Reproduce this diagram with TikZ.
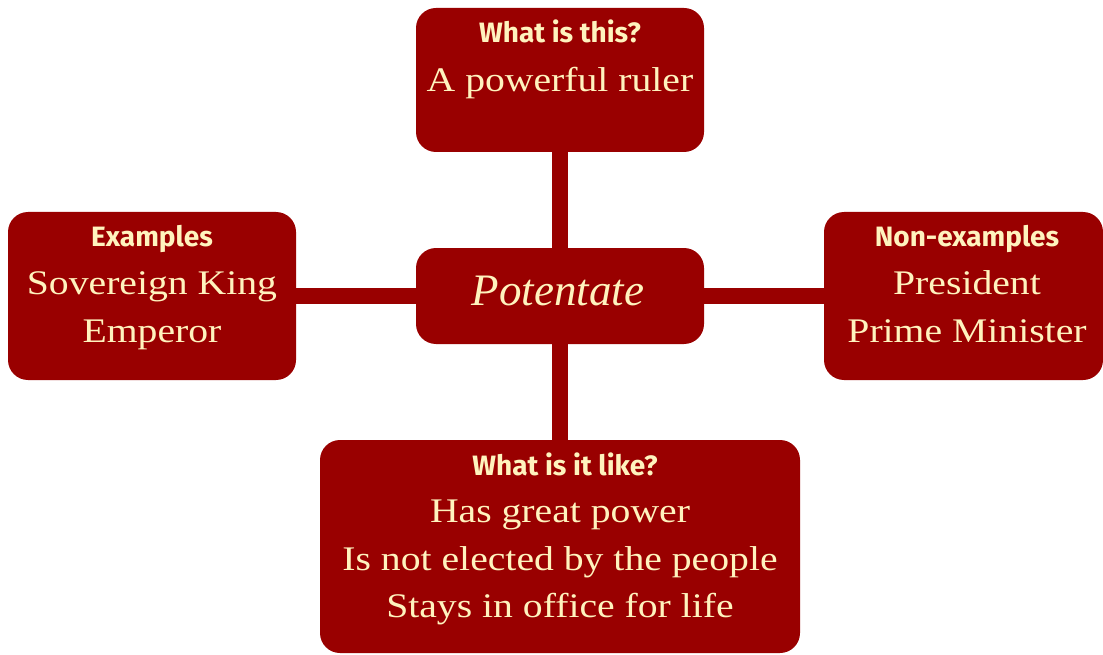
\documentclass[tikz,border=0pt]{standalone}
\usepackage{fontspec}
\setmainfont{Liberation Serif}
\newfontfamily\bodyfont{Liberation Serif}[FakeStretch=1.15]
\newfontfamily\hdrfont{Fira Sans}
\definecolor{boxred}{RGB}{153,0,0}
\definecolor{cream}{RGB}{255,243,190}
\begin{document}
\begin{tikzpicture}[x=1pt,y=-1pt,
  card/.style={fill=boxred, rounded corners=20pt, inner sep=0pt},
  conn/.style={draw=boxred, line width=16pt},
  hdr/.style={text=cream, anchor=base, inner sep=0pt, font=\hdrfont\bfseries\fontsize{28}{34}\selectfont},
  body/.style={text=cream, anchor=base, inner sep=0pt, font=\bodyfont\fontsize{34.5}{40}\selectfont},
  title/.style={text=cream, anchor=base, inner sep=0pt, font=\itshape\fontsize{45}{50}\selectfont}]
\useasboundingbox (0,0) rectangle (1103,655);
% boxes
\node[card, minimum width=288pt, minimum height=144pt] (top) at (560,80) {};
\node[card, minimum width=288pt, minimum height=96pt] (center) at (560,296) {};
\node[card, minimum width=288pt, minimum height=168pt] (left) at (152,296) {};
\node[card, minimum width=279pt, minimum height=168pt] (right) at (963.5,296) {};
\node[card, minimum width=480pt, minimum height=213pt] (bottom) at (560,546.5) {};
% connectors
\draw[conn] (top.south) -- (center.north);
\draw[conn] (center.south) -- (bottom.north);
\draw[conn] (left.east) -- (center.west);
\draw[conn] (center.east) -- (right.west);
% texts
\node[title] (ctitle) at (558,305) {Potentate};
\node[hdr] (tophdr) at (560,43) {What is this?};
\node[body] (top1) at (560,92) {A powerful ruler};
\node[hdr] (lefthdr) at (152,247) {Examples};
\node[body] (left1) at (152,294) {Sovereign King};
\node[body] (left2) at (152,342) {Emperor};
\node[hdr] (righthdr) at (967,247) {Non-examples};
\node[body] (right1) at (967,294) {President};
\node[body] (right2) at (967,342) {Prime Minister};
\node[hdr] (bothdr) at (565,475) {What is it like?};
\node[body] (bot1) at (560,522) {Has great power};
\node[body] (bot2) at (560,570) {Is not elected by the people};
\node[body] (bot3) at (560,617) {Stays in office for life};
\end{tikzpicture}
\end{document}
